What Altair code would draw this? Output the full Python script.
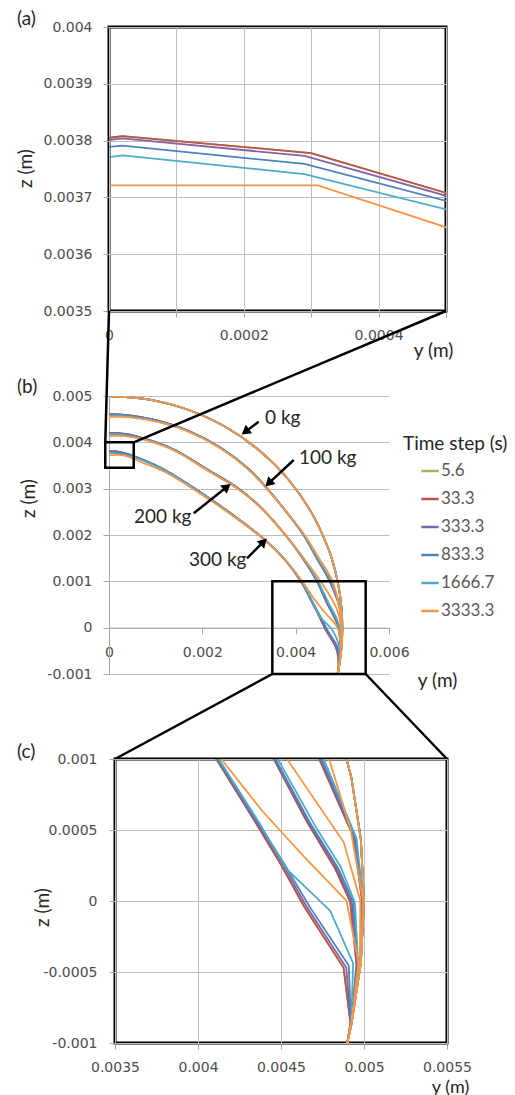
import altair as alt
import pandas as pd

# ---------------- data (profiles, in mm) ----------------
TIME_STEPS = ["5.6", "33.3", "333.3", "833.3", "1666.7", "3333.3"]
SERIES_COLORS = ["#9BBB59", "#C0504D", "#8064A2", "#4F81BD", "#4BACC6", "#F79646"]
LOADS = ["0 kg", "100 kg", "200 kg", "300 kg"]

# 0 kg : undeformed profile, identical for every time step
Y_0KG = [0, 0.868, 1.710, 2.500, 3.214, 3.830, 4.330, 4.698, 4.830, 4.924, 4.981, 5.000, 4.981, 4.924, 4.899]
Z_0KG = [5.000, 4.924, 4.698, 4.330, 3.830, 3.214, 2.500, 1.710, 1.294, 0.868, 0.436, 0.000, -0.436, -0.868, -1.000]

Y_100KG = {
    "5.6":    [0, 0.02, 0.40, 1.00, 1.70, 2.40, 3.00, 3.39, 3.80, 4.17, 4.45, 4.730, 4.938, 4.988, 4.978, 4.924, 4.899],
    "33.3":   [0, 0.02, 0.40, 1.00, 1.70, 2.40, 3.00, 3.39, 3.80, 4.17, 4.45, 4.730, 4.938, 4.988, 4.978, 4.924, 4.899],
    "333.3":  [0, 0.02, 0.40, 1.00, 1.70, 2.40, 3.00, 3.39, 3.80, 4.17, 4.455, 4.737, 4.942, 4.990, 4.978, 4.924, 4.899],
    "833.3":  [0, 0.02, 0.40, 1.00, 1.70, 2.40, 3.00, 3.39, 3.80, 4.175, 4.46, 4.745, 4.947, 4.992, 4.979, 4.924, 4.899],
    "1666.7": [0, 0.02, 0.40, 1.00, 1.70, 2.40, 3.00, 3.39, 3.80, 4.18, 4.47, 4.757, 4.955, 4.995, 4.980, 4.924, 4.899],
    "3333.3": [0, 0.02, 0.40, 1.00, 1.70, 2.40, 3.00, 3.39, 3.80, 4.19, 4.50, 4.790, 4.920, 4.995, 4.981, 4.924, 4.899],
}
Z_100KG = {
    "5.6":    [4.605, 4.607, 4.585, 4.480, 4.250, 3.880, 3.420, 3.000, 2.500, 2.000, 1.500, 1.000, 0.448, 0.002, -0.436, -0.866, -1.0],
    "33.3":   [4.605, 4.607, 4.585, 4.480, 4.250, 3.880, 3.420, 3.000, 2.500, 2.000, 1.500, 1.000, 0.448, 0.002, -0.436, -0.866, -1.0],
    "333.3":  [4.601, 4.603, 4.581, 4.478, 4.249, 3.879, 3.419, 3.000, 2.500, 2.000, 1.500, 1.000, 0.448, 0.002, -0.436, -0.866, -1.0],
    "833.3":  [4.592, 4.594, 4.572, 4.472, 4.246, 3.877, 3.418, 3.000, 2.500, 2.000, 1.500, 1.000, 0.446, 0.002, -0.436, -0.866, -1.0],
    "1666.7": [4.578, 4.580, 4.558, 4.460, 4.240, 3.870, 3.412, 2.995, 2.500, 2.000, 1.500, 1.000, 0.440, 0.000, -0.436, -0.866, -1.0],
    "3333.3": [4.550, 4.550, 4.545, 4.450, 4.230, 3.860, 3.400, 2.990, 2.500, 2.000, 1.500, 1.000, 0.500, 0.000, -0.436, -0.866, -1.0],
}
Y_200KG = {
    "5.6":    [0, 0.02, 0.35, 0.80, 1.40, 2.10, 2.78, 3.30, 3.78, 4.15, 4.456, 4.657, 4.827, 4.917, 4.955, 4.924, 4.899],
    "33.3":   [0, 0.02, 0.35, 0.80, 1.40, 2.10, 2.78, 3.30, 3.78, 4.15, 4.456, 4.657, 4.827, 4.917, 4.955, 4.924, 4.899],
    "333.3":  [0, 0.02, 0.35, 0.80, 1.40, 2.10, 2.78, 3.30, 3.78, 4.155, 4.460, 4.663, 4.836, 4.926, 4.958, 4.924, 4.899],
    "833.3":  [0, 0.02, 0.35, 0.80, 1.40, 2.10, 2.78, 3.30, 3.78, 4.16, 4.466, 4.672, 4.846, 4.935, 4.962, 4.924, 4.899],
    "1666.7": [0, 0.02, 0.35, 0.80, 1.40, 2.10, 2.78, 3.30, 3.78, 4.165, 4.480, 4.710, 4.860, 4.945, 4.965, 4.924, 4.899],
    "3333.3": [0, 0.02, 0.35, 0.80, 1.40, 2.10, 2.78, 3.30, 3.78, 4.17, 4.536, 4.878, 4.978, 4.975, 4.924, 4.899],
}
Z_200KG = {
    "5.6":    [4.200, 4.203, 4.180, 4.070, 3.840, 3.420, 3.000, 2.550, 2.000, 1.500, 1.000, 0.556, 0.227, -0.007, -0.450, -0.866, -1.0],
    "33.3":   [4.200, 4.203, 4.180, 4.070, 3.840, 3.420, 3.000, 2.550, 2.000, 1.500, 1.000, 0.556, 0.227, -0.007, -0.450, -0.866, -1.0],
    "333.3":  [4.196, 4.199, 4.176, 4.068, 3.839, 3.419, 3.000, 2.550, 2.000, 1.500, 1.000, 0.556, 0.227, -0.007, -0.450, -0.866, -1.0],
    "833.3":  [4.186, 4.189, 4.166, 4.062, 3.836, 3.417, 2.998, 2.548, 2.000, 1.500, 1.000, 0.556, 0.227, -0.007, -0.448, -0.866, -1.0],
    "1666.7": [4.172, 4.175, 4.152, 4.052, 3.830, 3.410, 2.990, 2.540, 2.000, 1.500, 1.000, 0.520, 0.240, -0.010, -0.445, -0.866, -1.0],
    "3333.3": [4.140, 4.140, 4.135, 4.040, 3.820, 3.400, 2.980, 2.540, 2.000, 1.500, 1.000, 0.413, 0.002, -0.436, -0.866, -1.0],
}
Y_300KG = {
    "5.6":    [0, 0.02, 0.30, 0.70, 1.20, 1.99, 2.70, 3.35, 3.78, 4.11, 4.345, 4.496, 4.640, 4.877, 4.918, 4.899],
    "33.3":   [0, 0.02, 0.30, 0.70, 1.20, 1.99, 2.70, 3.35, 3.78, 4.11, 4.345, 4.496, 4.640, 4.877, 4.918, 4.899],
    "333.3":  [0, 0.02, 0.29, 0.70, 1.20, 1.99, 2.70, 3.35, 3.785, 4.115, 4.352, 4.508, 4.655, 4.893, 4.920, 4.899],
    "833.3":  [0, 0.02, 0.29, 0.70, 1.20, 1.99, 2.70, 3.35, 3.79, 4.12, 4.36, 4.52, 4.675, 4.908, 4.922, 4.899],
    "1666.7": [0, 0.02, 0.29, 0.70, 1.20, 1.99, 2.70, 3.35, 3.79, 4.125, 4.366, 4.53, 4.797, 4.935, 4.922, 4.899],
    "3333.3": [0, 0.02, 0.31, 0.70, 1.20, 1.99, 2.70, 3.35, 3.79, 4.14, 4.39, 4.64, 4.895, 4.968, 4.924, 4.899],
}
Z_300KG = {
    "5.6":    [3.805, 3.808, 3.778, 3.638, 3.400, 2.900, 2.400, 1.890, 1.450, 1.000, 0.556, 0.263, -0.040, -0.470, -0.860, -1.0],
    "33.3":   [3.805, 3.808, 3.778, 3.638, 3.400, 2.900, 2.400, 1.890, 1.450, 1.000, 0.556, 0.263, -0.040, -0.470, -0.860, -1.0],
    "333.3":  [3.801, 3.804, 3.773, 3.636, 3.400, 2.900, 2.400, 1.890, 1.450, 1.000, 0.556, 0.262, -0.040, -0.468, -0.862, -1.0],
    "833.3":  [3.789, 3.791, 3.759, 3.632, 3.395, 2.895, 2.395, 1.885, 1.450, 1.000, 0.556, 0.260, -0.045, -0.455, -0.862, -1.0],
    "1666.7": [3.771, 3.774, 3.741, 3.620, 3.390, 2.890, 2.390, 1.880, 1.450, 1.000, 0.556, 0.230, -0.070, -0.440, -0.862, -1.0],
    "3333.3": [3.721, 3.721, 3.721, 3.570, 3.360, 2.870, 2.380, 1.880, 1.450, 1.000, 0.630, 0.310, 0.000, -0.440, -0.866, -1.0],
}

# annotations in panel (b), mm
ANNOT_TEXT = ["0 kg", "100 kg", "200 kg", "300 kg"]
ANNOT_Y = [3.343, 4.071, 0.536, 1.714]
ANNOT_Z = [4.525, 3.662, 2.388, 1.460]
ARROW_TAIL_Y = [3.208, 3.958, 1.815, 2.957]
ARROW_TAIL_Z = [4.445, 3.619, 2.468, 1.497]
ARROW_HEAD_Y = [2.921, 3.420, 2.529, 3.315]
ARROW_HEAD_Z = [4.229, 3.116, 3.042, 1.855]

# zoom boxes in panel (b), mm
BOX_Y1 = [-0.08, 3.5]
BOX_Y2 = [0.53, 5.5]
BOX_Z1 = [3.45, -1.0]
BOX_Z2 = [4.0, 1.0]

PANEL_LABELS = ["(a)", "(b)", "(c)"]

# ---------------- layout ----------------
TOP, LEFT = 25, 107
W_A, H_A = 337, 284
W_B, H_B = 280, 278
W_C, H_C = 332, 284
GAP = 85
C_SHIFT = 6
DOM_A = ([0, 0.0005], [0.0035, 0.004])
DOM_B = ([0, 0.006], [-0.001, 0.005])
DOM_C = ([0.0035, 0.0055], [-0.001, 0.001])

MM = 0.001
profiles = {
    "0 kg": ({t: Y_0KG for t in TIME_STEPS}, {t: Z_0KG for t in TIME_STEPS}),
    "100 kg": (Y_100KG, Z_100KG),
    "200 kg": (Y_200KG, Z_200KG),
    "300 kg": (Y_300KG, Z_300KG),
}
rows = []
for ts in TIME_STEPS:
    for load in LOADS:
        ys, zs = profiles[load][0][ts], profiles[load][1][ts]
        for i, (yv, zv) in enumerate(zip(ys, zs)):
            rows.append({"ts": ts, "load": load, "idx": i, "y": yv * MM, "z": zv * MM})
df = pd.DataFrame(rows)

FMT = "replace(format(datum.value, '~g'), '\u2212', '-')"
TICK_GRAY = "#a6a6a6"
GRID_GRAY = "#bdbdbd"
LABEL_COLOR = "#4d4d4d"
TEXT_COLOR = "#262626"


def make_axis(values, title, label_pad, title_x, title_y, angle=0, label_expr=FMT, title_size=19, **extra):
    return alt.Axis(
        values=values, title=title, labelExpr=label_expr,
        labelFont="DejaVu Sans", labelFontSize=14, labelColor=LABEL_COLOR,
        labelPadding=label_pad, labelFlush=False, labelOverlap=False,
        tickSize=6, tickColor=TICK_GRAY, tickWidth=1,
        gridColor=GRID_GRAY, gridWidth=1,
        titleFont="Lato", titleFontSize=title_size, titleFontWeight="normal", titleColor=TEXT_COLOR,
        titleX=title_x, titleY=title_y, titleAngle=angle,
        titleAlign="center", titleBaseline="middle",
        **extra,
    )


LEGEND = alt.Legend(
    title="Time step (s)", orient="none", legendX=294, legendY=408,
    symbolType="stroke", symbolSize=300, symbolStrokeWidth=2.5, symbolOffset=17,
    titleFont="Lato", titleFontSize=19, titleFontWeight="normal", titleColor=TEXT_COLOR,
    titlePadding=7, labelFont="Lato", labelFontSize=17, labelColor="#595959",
    labelOffset=1, rowPadding=10, padding=0, offset=0,
)


def curves(dom, xaxis, yaxis, interp):
    return alt.Chart(df).mark_line(strokeWidth=1.8, clip=True, interpolate=interp).encode(
        x=alt.X("y:Q", scale=alt.Scale(domain=dom[0], nice=False, zero=False), axis=xaxis),
        y=alt.Y("z:Q", scale=alt.Scale(domain=dom[1], nice=False, zero=False), axis=yaxis),
        color=alt.Color("ts:N", scale=alt.Scale(domain=TIME_STEPS, range=SERIES_COLORS), legend=LEGEND),
        detail="load:N",
        order=alt.Order("idx:Q"),
    )


def panel_label(text, px, py):
    return alt.Chart(pd.DataFrame({"t": [text]})).mark_text(
        align="left", baseline="middle", font="Lato", fontSize=19, color=TEXT_COLOR
    ).encode(text="t:N", x=alt.value(px), y=alt.value(py))


# ---------------- panel (a) ----------------
xa = make_axis([0, 0.0001, 0.0002, 0.0003, 0.0004, 0.0005], "y (m)", 11, 324, 39,
               label_expr="round(datum.value * 10000) % 2 == 0 ? " + FMT + " : ''", domain=False)
ya = make_axis([0.0035, 0.0036, 0.0037, 0.0038, 0.0039, 0.004], "z (m)", 11, -84, 141, angle=270, domain=False)
pin = alt.Chart(pd.DataFrame({"v": [0]})).mark_rule(opacity=0).encode(
    x=alt.value(-LEFT), x2=alt.value(-LEFT + 1), y=alt.value(-TOP))
panel_a = alt.layer(
    curves(DOM_A, xa, ya, "linear"),
    panel_label(PANEL_LABELS[0], 15 - LEFT, 17 - TOP),
    pin,
).properties(width=W_A, height=H_A, view=alt.ViewBackground(stroke="black", strokeWidth=3))

# ---------------- panel (b) ----------------
px_per_mm_x = W_B / 6.0
px_per_mm_z = H_B / 6.0
z_a_bottom = 5.0 + GAP / px_per_mm_z
z_c_top = -1.0 - GAP / px_per_mm_z
conn = pd.DataFrame({
    "y1": [0.0, W_A / px_per_mm_x, BOX_Y1[1], BOX_Y2[1]],
    "z1": [z_a_bottom, z_a_bottom, BOX_Z1[1], BOX_Z1[1]],
    "y2": [BOX_Y1[0], BOX_Y2[0], C_SHIFT / px_per_mm_x, (C_SHIFT + W_C) / px_per_mm_x],
    "z2": [BOX_Z2[0], BOX_Z2[0], z_c_top, z_c_top],
}) * MM
boxes = pd.DataFrame({"y1": BOX_Y1, "y2": BOX_Y2, "z1": BOX_Z1, "z2": BOX_Z2}) * MM
annot = pd.DataFrame({"t": ANNOT_TEXT, "y": ANNOT_Y, "z": ANNOT_Z})
annot[["y", "z"]] = annot[["y", "z"]] * MM
arrows = pd.DataFrame({"ty": ARROW_TAIL_Y, "tz": ARROW_TAIL_Z, "hy": ARROW_HEAD_Y, "hz": ARROW_HEAD_Z}) * MM

xb = make_axis([0, 0.002, 0.004, 0.006], "y (m)", 12, 328, 53, grid=False,
               offset=-(H_B / 6.0), domain=True, domainColor=TICK_GRAY)
yb = make_axis([-0.001, 0, 0.001, 0.002, 0.003, 0.004, 0.005], "z (m)", 11, -81, 102, angle=270,
               domain=True, domainColor=TICK_GRAY)

box_layer = alt.Chart(boxes).mark_rect(fillOpacity=0, stroke="black", strokeWidth=2.5).encode(
    x="y1:Q", x2="y2", y="z1:Q", y2="z2")
conn_layer = alt.Chart(conn).mark_rule(color="black", strokeWidth=2.5).encode(
    x="y1:Q", x2="y2", y="z1:Q", y2="z2")
shaft_layer = alt.Chart(arrows).mark_rule(color="black", strokeWidth=2.5).encode(
    x="ty:Q", x2="hy", y="tz:Q", y2="hz")
head_layer = alt.Chart(arrows).transform_calculate(
    ang="(atan2(datum.hy - datum.ty, datum.hz - datum.tz) * 180 / PI + 360) % 360"
).mark_point(shape="triangle-up", filled=True, size=110, color="black", opacity=1).encode(
    x="hy:Q", y="hz:Q", angle=alt.Angle("ang:Q", scale=None))
text_layer = alt.Chart(annot).mark_text(
    align="left", baseline="middle", font="Lato", fontSize=19, color=TEXT_COLOR
).encode(x="y:Q", y="z:Q", text="t:N")

panel_b = alt.layer(
    curves(DOM_B, xb, yb, "catmull-rom"),
    box_layer, conn_layer, shaft_layer, head_layer, text_layer,
    panel_label(PANEL_LABELS[1], 15 - LEFT, 385 - 394),
).properties(width=W_B, height=H_B, view=alt.ViewBackground(stroke="transparent"))

# ---------------- panel (c) ----------------
xc = make_axis([0.0035, 0.004, 0.0045, 0.005, 0.0055], "y (m)", 11, 335, 44, title_size=18, domain=False)
yc = make_axis([-0.001, -0.0005, 0, 0.0005, 0.001], "z (m)", 12, -73, 148, angle=270, domain=False)
panel_c = alt.layer(
    curves(DOM_C, xc, yc, "linear"),
    panel_label(PANEL_LABELS[2], 15 - LEFT - C_SHIFT, -7),
).properties(width=W_C, height=H_C, view=alt.ViewBackground(stroke="black", strokeWidth=3))

spacer = alt.Chart(pd.DataFrame({"v": [0]})).mark_rule(opacity=0).encode(
    x=alt.value(0), x2=alt.value(1), y=alt.value(0)).properties(width=1, height=H_C)
row_c = alt.hconcat(spacer, panel_c, spacing=C_SHIFT - 1, bounds="flush")

chart = alt.vconcat(panel_a, panel_b, row_c, spacing=GAP, bounds="flush").properties(
    padding=0, background="white"
).configure_view(stroke="transparent")

chart.save("out.html", embed_options={"renderer": "svg", "actions": False})
